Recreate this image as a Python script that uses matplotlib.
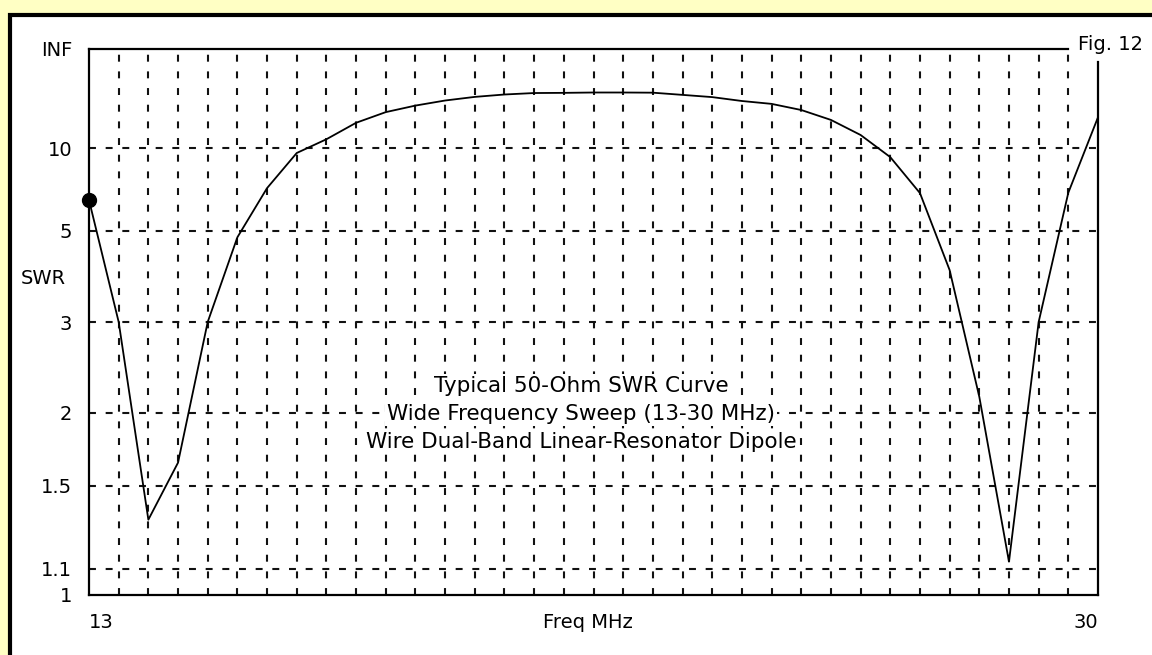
#!/usr/bin/env python
# -*- coding: utf8 -*-

"""SWR curve of a wire dual-band linear-resonator dipole, 13-30 MHz sweep"""

import numpy as np
import matplotlib
matplotlib.use("Agg")
import matplotlib.pyplot as plt
from matplotlib.patches import Rectangle
from matplotlib.transforms import blended_transform_factory

# sweep frequencies, MHz (0.5 MHz steps)
freq = [13.0, 13.5, 14.0, 14.5, 15.0, 15.5, 16.0, 16.5, 17.0, 17.5, 18.0, 18.5,
        19.0, 19.5, 20.0, 20.5, 21.0, 21.5, 22.0, 22.5, 23.0, 23.5, 24.0, 24.5,
        25.0, 25.5, 26.0, 26.5, 27.0, 27.5, 28.0, 28.5, 29.0, 29.5, 30.0]
# 50-ohm SWR at each frequency
swr = [6.23, 3.0, 1.32, 1.64, 3.0, 4.8, 6.85, 9.5, 11.1, 13.8, 16.3, 18.3,
       20.2, 21.8, 23.0, 23.8, 23.9, 24.1, 24.1, 24.0, 22.8, 21.7, 20.0, 18.9,
       16.9, 14.4, 11.7, 9.1, 6.58, 3.94, 2.14, 1.13, 3.0, 6.6, 15.0]

swr_ticks = [np.inf, 10, 5, 3, 2, 1.5, 1.1, 1]
swr_tick_labels = ["INF", "10", "5", "3", "2", "1.5", "1.1", "1"]
swr_grid = [10, 5, 3, 2, 1.5, 1.1]
freq_step = 0.5

title_lines = ["Typical 50-Ohm SWR Curve",
               "Wide Frequency Sweep (13-30 MHz)",
               "Wire Dual-Band Linear-Resonator Dipole"]


def refl(s):
    """SWR -> magnitude of the reflection coefficient (linear SWR chart scale)"""
    s = np.asarray(s, dtype=float)
    with np.errstate(invalid="ignore"):
        r = (s - 1.0) / (s + 1.0)
    return np.where(np.isinf(s), 1.0, r)


def main() -> None:
    """Do the job"""
    plt.rcParams["font.family"] = ["DejaVu Sans"]
    plt.rcParams["lines.scale_dashes"] = False

    fig = plt.figure(figsize=(11.52, 6.55), dpi=100, facecolor="#FFFFC4")
    W, H = 1152, 655
    # white panel with the heavy black frame
    fig.patches.append(Rectangle((10 / W, -0.1), 1.2, 1 - 14.5 / H + 0.1,
                                 transform=fig.transFigure, facecolor="white",
                                 edgecolor="black", linewidth=3.0, zorder=-1))

    ax = fig.add_axes([89 / W, 1 - 595 / H, (1098 - 89) / W, (595 - 49) / H])
    ax.set_zorder(1)
    ax.set_facecolor("none")
    ax.set_xlim(freq[0], freq[-1])
    ax.set_ylim(0, 1)

    dash = (0, (5, 7))
    grid_f = np.arange(freq[0] + freq_step, freq[-1], freq_step)
    ax.vlines(grid_f, 0, 1, colors="#111111", linestyles=dash, linewidth=1.5)
    ax.hlines(refl(swr_grid), freq[0], freq[-1], colors="#111111",
              linestyles=dash, linewidth=1.5)

    # frame: top line stops one step short, right line stops below the top
    for side in ("top", "right"):
        ax.spines[side].set_visible(False)
    for side in ("left", "bottom"):
        ax.spines[side].set_linewidth(1.6)
    ax.axhline(1.0, xmin=0, xmax=(freq[-1] - freq_step - freq[0]) / (freq[-1] - freq[0]),
               color="black", linewidth=1.6, clip_on=False)
    ax.axvline(freq[-1], ymin=0, ymax=(595 - 62) / 546, color="black",
               linewidth=1.6, clip_on=False)

    ax.plot(freq, refl(swr), color="black", linewidth=1.3, zorder=3)
    ax.plot(freq[0], refl(swr[0]), "o", color="black", markersize=10,
            clip_on=False, zorder=4)

    ax.set_xticks(np.arange(freq[0], freq[-1] + 0.01, freq_step))
    ax.set_xticklabels([])
    ax.tick_params(axis="x", direction="in", length=3.5, width=1.3)
    ax.set_yticks(refl(swr_ticks))
    ax.set_yticklabels(swr_tick_labels)
    ax.tick_params(axis="y", length=0, pad=12, labelsize=14)

    trans = blended_transform_factory(ax.transData, ax.transAxes)
    ybot = -28 / 546
    ax.text(freq[0], ybot, "13", transform=trans, ha="left", va="center",
            fontsize=14)
    ax.text(freq[-1], ybot, "30", transform=trans, ha="right", va="center",
            fontsize=14)
    ax.text(21.4, ybot, "Freq MHz", transform=trans, ha="center", va="center",
            fontsize=14)
    fig.text(43 / W, 1 - 278 / H, "SWR", ha="center", va="center", fontsize=14)
    fig.text(1078 / W, 1 - 44 / H, "Fig. 12", ha="left", va="center",
             fontsize=14)

    # caption block sits on white, hiding the grid behind it
    for i, line in enumerate(title_lines):
        t = fig.text(581 / W, 1 - (386 + 28 * i) / H, line, ha="center",
                     va="center", fontsize=15.5, zorder=5)
        t.set_bbox(dict(facecolor="white", edgecolor="none", pad=1.5))

    fig.savefig("out.png", dpi=100, facecolor=fig.get_facecolor())


if __name__ == "__main__":
    main()
